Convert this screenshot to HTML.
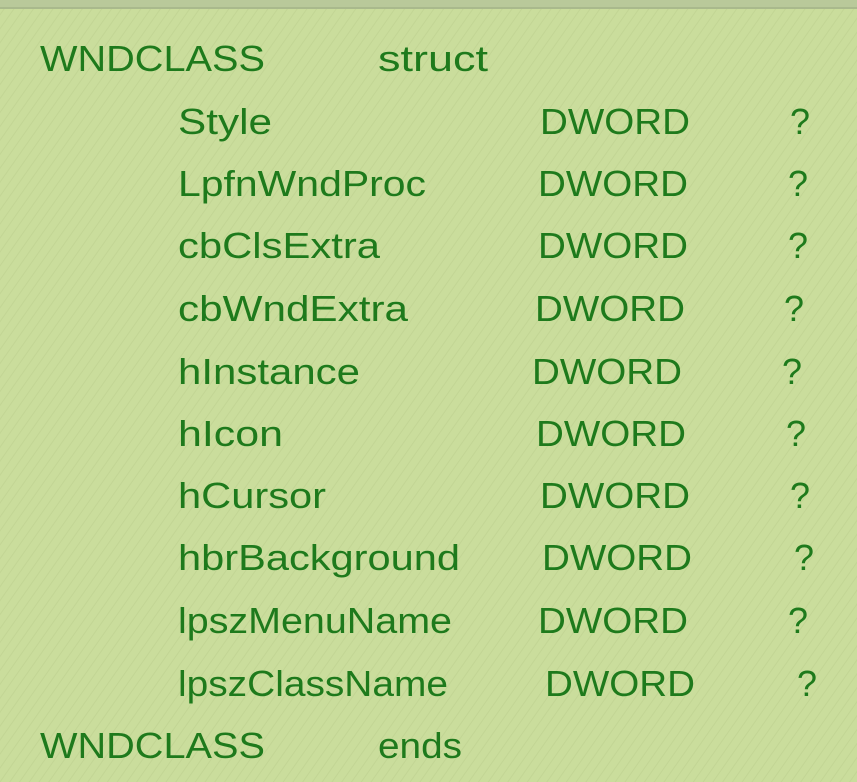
<!DOCTYPE html>
<html><head><meta charset="utf-8"><style>
html,body{margin:0;padding:0;}
body{width:857px;height:782px;overflow:hidden;background:#cadd9c;}
svg{display:block}
text{font-family:"Liberation Sans",sans-serif;font-size:36px;fill:#1e7a1c;}
</style></head><body>
<svg width="857" height="782" xmlns="http://www.w3.org/2000/svg">
<defs>
<pattern id="p" width="8" height="8" patternUnits="userSpaceOnUse" patternTransform="rotate(35)">
<rect width="8" height="8" fill="#cadd9c"/>
<line x1="0" y1="0" x2="0" y2="8" stroke="#c2d594" stroke-width="2"/>
</pattern>
</defs>
<rect width="857" height="782" fill="url(#p)"/>
<rect width="857" height="7" fill="#b9c99a"/>
<rect y="7" width="857" height="2" fill="#a9b98c"/>
<g lengthAdjust="spacingAndGlyphs">
<text x="40" y="71" textLength="225" lengthAdjust="spacingAndGlyphs">WNDCLASS</text>
<text x="378" y="71" textLength="110" lengthAdjust="spacingAndGlyphs">struct</text>

<text x="178" y="134" textLength="94" lengthAdjust="spacingAndGlyphs">Style</text>
<text x="540" y="134" textLength="150" lengthAdjust="spacingAndGlyphs">DWORD</text>
<text x="790" y="134" textLength="20" lengthAdjust="spacingAndGlyphs">?</text>

<text x="178" y="196" textLength="248" lengthAdjust="spacingAndGlyphs">LpfnWndProc</text>
<text x="538" y="196" textLength="150" lengthAdjust="spacingAndGlyphs">DWORD</text>
<text x="788" y="196" textLength="20" lengthAdjust="spacingAndGlyphs">?</text>

<text x="178" y="258" textLength="202" lengthAdjust="spacingAndGlyphs">cbClsExtra</text>
<text x="538" y="258" textLength="150" lengthAdjust="spacingAndGlyphs">DWORD</text>
<text x="788" y="258" textLength="20" lengthAdjust="spacingAndGlyphs">?</text>

<text x="178" y="321" textLength="230" lengthAdjust="spacingAndGlyphs">cbWndExtra</text>
<text x="535" y="321" textLength="150" lengthAdjust="spacingAndGlyphs">DWORD</text>
<text x="784" y="321" textLength="20" lengthAdjust="spacingAndGlyphs">?</text>

<text x="178" y="384" textLength="182" lengthAdjust="spacingAndGlyphs">hInstance</text>
<text x="532" y="384" textLength="150" lengthAdjust="spacingAndGlyphs">DWORD</text>
<text x="782" y="384" textLength="20" lengthAdjust="spacingAndGlyphs">?</text>

<text x="178" y="446" textLength="105" lengthAdjust="spacingAndGlyphs">hIcon</text>
<text x="536" y="446" textLength="150" lengthAdjust="spacingAndGlyphs">DWORD</text>
<text x="786" y="446" textLength="20" lengthAdjust="spacingAndGlyphs">?</text>

<text x="178" y="508" textLength="148" lengthAdjust="spacingAndGlyphs">hCursor</text>
<text x="540" y="508" textLength="150" lengthAdjust="spacingAndGlyphs">DWORD</text>
<text x="790" y="508" textLength="20" lengthAdjust="spacingAndGlyphs">?</text>

<text x="178" y="570" textLength="282" lengthAdjust="spacingAndGlyphs">hbrBackground</text>
<text x="542" y="570" textLength="150" lengthAdjust="spacingAndGlyphs">DWORD</text>
<text x="794" y="570" textLength="20" lengthAdjust="spacingAndGlyphs">?</text>

<text x="178" y="633" textLength="274" lengthAdjust="spacingAndGlyphs">lpszMenuName</text>
<text x="538" y="633" textLength="150" lengthAdjust="spacingAndGlyphs">DWORD</text>
<text x="788" y="633" textLength="20" lengthAdjust="spacingAndGlyphs">?</text>

<text x="178" y="696" textLength="270" lengthAdjust="spacingAndGlyphs">lpszClassName</text>
<text x="545" y="696" textLength="150" lengthAdjust="spacingAndGlyphs">DWORD</text>
<text x="797" y="696" textLength="20" lengthAdjust="spacingAndGlyphs">?</text>

<text x="40" y="758" textLength="225" lengthAdjust="spacingAndGlyphs">WNDCLASS</text>
<text x="378" y="758" textLength="84" lengthAdjust="spacingAndGlyphs">ends</text>
</g>
</svg>
</body></html>
